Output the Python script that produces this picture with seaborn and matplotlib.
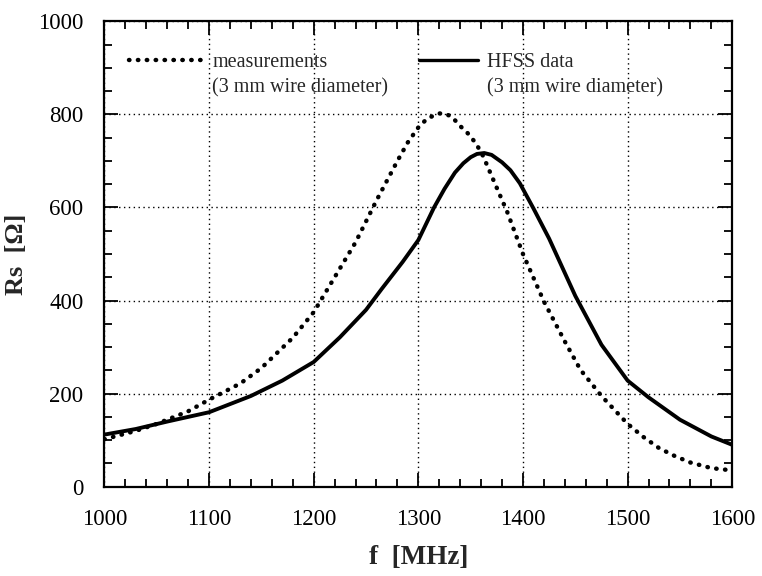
import pandas as pd
import seaborn as sns
import matplotlib.pyplot as plt
from matplotlib.lines import Line2D
from matplotlib.ticker import MultipleLocator

# measured curve (dotted)
meas_f = [1000, 1030, 1050, 1080, 1100, 1130, 1150, 1180, 1200, 1220, 1240, 1260, 1280,
          1290, 1300, 1308, 1315, 1320, 1325, 1332, 1340, 1347, 1355, 1362, 1370, 1385,
          1400, 1420, 1440, 1455, 1475, 1500, 1515, 1530, 1545, 1560, 1580, 1600]
meas_rs = [102, 120, 135, 162, 187, 222, 255, 320, 375, 450, 525, 615, 700,
           740, 772, 790, 798, 802, 802, 795, 775, 760, 738, 710, 668, 590,
           500, 398, 312, 251, 195, 135, 107, 83, 66, 52, 40, 35]

# HFSS simulation (solid)
hfss_f = [1000, 1030, 1060, 1100, 1140, 1170, 1200, 1225, 1250, 1265, 1285, 1300, 1315,
          1325, 1335, 1343, 1350, 1356, 1363, 1370, 1380, 1388, 1397, 1410, 1425, 1450,
          1475, 1500, 1520, 1550, 1580, 1600]
hfss_rs = [112, 124, 140, 160, 195, 228, 268, 321, 380, 425, 483, 530, 600,
           640, 675, 695, 708, 715, 717, 713, 697, 680, 652, 598, 533, 410,
           305, 228, 192, 144, 108, 90]

df_meas = pd.DataFrame({"f": meas_f, "Rs": meas_rs})
df_hfss = pd.DataFrame({"f": hfss_f, "Rs": hfss_rs})

sns.set_style("ticks")
plt.rcParams['font.family'] = ['Liberation Serif', 'DejaVu Serif']

fig = plt.figure(figsize=(7.62, 5.76), dpi=100)
ax = fig.add_axes([0.137, 0.155, 0.824, 0.808])

dots = (0, (0.1, 1.9))
sns.lineplot(x="f", y="Rs", data=df_meas, ax=ax, color="black", linewidth=3.2,
             linestyle=dots, dash_capstyle="round")
sns.lineplot(x="f", y="Rs", data=df_hfss, ax=ax, color="black", linewidth=2.8)

ax.set_xlim(1000, 1600)
ax.set_ylim(0, 1000)
ax.xaxis.set_major_locator(MultipleLocator(100))
ax.xaxis.set_minor_locator(MultipleLocator(20))
ax.yaxis.set_major_locator(MultipleLocator(200))
ax.yaxis.set_minor_locator(MultipleLocator(50))
ax.tick_params(which="both", direction="in", top=True, right=True, width=1.3,
               labelsize=16.5, colors="black")
ax.tick_params(which="major", length=10)
ax.tick_params(axis="x", which="major", pad=16)
ax.tick_params(axis="y", which="major", pad=15)
ax.tick_params(which="minor", length=6)
for s in ax.spines.values():
    s.set_linewidth(1.6)
    s.set_color("black")
ax.grid(True, which="major", color="black", linewidth=1.0, linestyle=(0, (1, 2.5)))

ax.set_xlabel("f  [MHz]", fontsize=19.5, fontweight="bold")
ax.set_ylabel("Rs  [Ω]", fontsize=19, fontweight="bold")
ax.xaxis.set_label_coords(0.5, -0.125)
ax.yaxis.set_label_coords(-0.122, 0.5)

blank = Line2D([], [], linestyle="none")
h_meas = Line2D([], [], color="black", linewidth=3.2, linestyle=dots,
                dash_capstyle="round")
h_hfss = Line2D([], [], color="black", linewidth=2.4)
leg1 = ax.legend([h_meas, blank], ["measurements", "(3 mm wire diameter)"],
                 frameon=False, fontsize=14.5, loc="upper left",
                 bbox_to_anchor=(0.01, 0.97), handlelength=3.85, handletextpad=0.3,
                 labelspacing=0.3)
ax.add_artist(leg1)
ax.legend([h_hfss, blank], ["HFSS data", "(3 mm wire diameter)"],
          frameon=False, fontsize=14.5, loc="upper left",
          bbox_to_anchor=(0.4725, 0.97), handlelength=2.9, handletextpad=0.45,
          labelspacing=0.3)

fig.savefig("out.png", dpi=100)
